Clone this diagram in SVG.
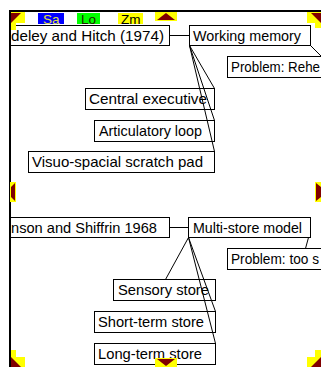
<svg xmlns="http://www.w3.org/2000/svg" width="321" height="367" viewBox="0 0 321 367">
<defs>
<style>
.box{fill:#fff;stroke:#000;stroke-width:1}
.lbl{font-family:"Liberation Sans",Arial,sans-serif;font-size:14.5px;fill:#000}
.wire{stroke:#000;stroke-width:1;fill:none}
.hi{fill:#ff0}
.mk{fill:#800000}
.tb{font-family:"Liberation Sans",Arial,sans-serif;font-size:13.5px}
</style>
<clipPath id="pane"><rect x="11" y="12" width="310" height="355"/></clipPath>
</defs>
<rect width="321" height="367" fill="#fff"/>

<!-- map pane: nodes -->
<g clip-path="url(#pane)">
  <g id="baddeley-hitch">
    <rect class="box" x="-40.5" y="25.5" width="210" height="20"/>
    <text class="lbl" x="11" y="40.5" textLength="153" lengthAdjust="spacingAndGlyphs">deley and Hitch (1974)</text>
  </g>
  <g id="working-memory">
    <rect class="box" x="189.5" y="25.5" width="121" height="20"/>
    <text class="lbl" x="193" y="40.5" textLength="108" lengthAdjust="spacingAndGlyphs">Working memory</text>
  </g>
  <g id="problem-rehearsal">
    <rect class="box" x="227.5" y="56.5" width="200" height="21"/>
    <text class="lbl" x="231" y="72" textLength="89" lengthAdjust="spacingAndGlyphs">Problem: Rehe</text>
  </g>
  <g id="central-executive">
    <rect class="box" x="85.5" y="88.5" width="129" height="21"/>
    <text class="lbl" x="89" y="104" textLength="118" lengthAdjust="spacingAndGlyphs">Central executive</text>
  </g>
  <g id="articulatory-loop">
    <rect class="box" x="94.5" y="120.5" width="120" height="21"/>
    <text class="lbl" x="99" y="136" textLength="103" lengthAdjust="spacingAndGlyphs">Articulatory loop</text>
  </g>
  <g id="scratch-pad">
    <rect class="box" x="28.5" y="151.5" width="186" height="21"/>
    <text class="lbl" x="32" y="167" textLength="171" lengthAdjust="spacingAndGlyphs">Visuo-spacial scratch pad</text>
  </g>

  <g id="atkinson-shiffrin">
    <rect class="box" x="-40.5" y="217.5" width="210" height="20"/>
    <text class="lbl" x="11" y="232.5" textLength="146" lengthAdjust="spacingAndGlyphs">nson and Shiffrin 1968</text>
  </g>
  <g id="multi-store">
    <rect class="box" x="188.5" y="217.5" width="122" height="20"/>
    <text class="lbl" x="193" y="232.5" textLength="109" lengthAdjust="spacingAndGlyphs">Multi-store model</text>
  </g>
  <g id="problem-too">
    <rect class="box" x="227.5" y="248.5" width="200" height="21"/>
    <text class="lbl" x="231" y="264" textLength="88" lengthAdjust="spacingAndGlyphs">Problem: too s</text>
  </g>
  <g id="sensory-store">
    <rect class="box" x="113.5" y="279.5" width="102" height="21"/>
    <text class="lbl" x="118" y="295" textLength="91" lengthAdjust="spacingAndGlyphs">Sensory store</text>
  </g>
  <g id="short-term-store">
    <rect class="box" x="94.5" y="311.5" width="121" height="21"/>
    <text class="lbl" x="98" y="327" textLength="106" lengthAdjust="spacingAndGlyphs">Short-term store</text>
  </g>
  <g id="long-term-store">
    <rect class="box" x="94.5" y="343.5" width="121" height="21"/>
    <text class="lbl" x="98" y="359" textLength="104" lengthAdjust="spacingAndGlyphs">Long-term store</text>
  </g>

  <!-- links drawn over the boxes -->
  <g id="connectors" class="wire">
    <line x1="169.5" y1="35.5" x2="189.5" y2="35.5"/>
    <line x1="310.5" y1="45.5" x2="322" y2="57"/>
    <line x1="189.5" y1="45.5" x2="214.5" y2="88.5"/>
    <line x1="189.5" y1="45.5" x2="214.5" y2="120.5"/>
    <line x1="189.5" y1="45.5" x2="214.5" y2="151.5"/>

    <line x1="169.5" y1="227.5" x2="188.5" y2="227.5"/>
    <line x1="308.5" y1="237.5" x2="305.5" y2="248.5"/>
    <line x1="188.5" y1="237.5" x2="165.5" y2="279.5"/>
    <line x1="188.5" y1="237.5" x2="215.5" y2="311.5"/>
    <line x1="188.5" y1="237.5" x2="215.5" y2="343.5"/>
  </g>
</g>

<!-- frame -->
<rect x="9" y="10" width="312" height="2" fill="#000"/>
<rect x="9" y="10" width="2" height="357" fill="#000"/>

<!-- toolbar -->
<g id="toolbar">
  <rect x="38" y="13" width="26" height="11" fill="#0000ff"/>
  <text class="tb" x="43" y="23.5" fill="#e0e040">Sa</text>
  <rect x="77" y="13" width="23" height="11" fill="#00ff00"/>
  <text class="tb" x="81" y="23.5" fill="#202000">Lo</text>
  <rect x="118" y="13" width="25" height="11" fill="#ffff00"/>
  <text class="tb" x="121" y="23.5" fill="#000">Zm</text>
</g>

<!-- scroll markers -->
<g id="scroll-markers">
  <rect class="hi" x="155" y="12" width="22" height="9"/>
  <polygon class="mk" points="157,20 166,13 175,20"/>
  <rect class="hi" x="155" y="358" width="22" height="9"/>
  <polygon class="mk" points="157,359 175,359 166,366"/>

  <rect class="hi" x="11" y="12" width="14" height="11"/>
  <rect class="hi" x="11" y="12" width="5" height="18"/>
  <polygon class="mk" points="11,13 21,13 11,23"/>

  <rect class="hi" x="307" y="12" width="14" height="11"/>
  <rect class="hi" x="315" y="12" width="6" height="16"/>
  <polygon class="mk" points="321,13 311,13 321,23"/>

  <rect class="hi" x="11" y="357" width="14" height="10"/>
  <rect class="hi" x="11" y="350" width="5" height="17"/>
  <polygon class="mk" points="11,367 11,357 21,367"/>

  <rect class="hi" x="307" y="357" width="14" height="10"/>
  <rect class="hi" x="315" y="350" width="6" height="17"/>
  <polygon class="mk" points="321,367 321,357 311,367"/>

  <rect class="hi" x="10" y="182" width="6" height="20"/>
  <polygon class="mk" points="15,183 15,201 11,197 11,187"/>
  <rect class="hi" x="315" y="182" width="6" height="20"/>
  <polygon class="mk" points="316,183 321,187 321,197 316,201"/>
</g>
</svg>
